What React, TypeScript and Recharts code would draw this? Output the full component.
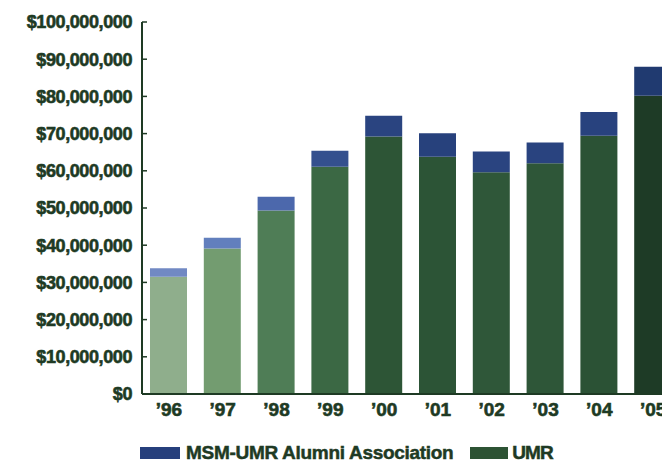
import React, { useLayoutEffect } from 'react';
import { BarChart, Bar, XAxis, YAxis, Cell, Legend } from 'recharts';

const years = ['’96', '’97', '’98', '’99', '’00', '’01', '’02', '’03', '’04', '’05'];
const umrValues = [31500000, 39100000, 49300000, 61100000, 69200000, 63800000, 59600000, 62000000, 69400000, 80200000];
const alumniValues = [2300000, 2900000, 3700000, 4300000, 5600000, 6300000, 5600000, 5600000, 6400000, 7800000];
const yTicks = [0, 10000000, 20000000, 30000000, 40000000, 50000000, 60000000, 70000000, 80000000, 90000000, 100000000];

const greenColors = ['#8fae8c', '#739c70', '#4f7d56', '#3b6844', '#2d5536', '#2c5436', '#2f5739', '#2e5638', '#2b5235', '#1e3b26'];
const blueColors = ['#7189c3', '#627fbd', '#4c68ac', '#34508e', '#2a4480', '#27417c', '#2a4480', '#29437f', '#28427e', '#203a70'];

const data = years.map((y, i) => ({ year: y, umr: umrValues[i], alumni: alumniValues[i] }));

const TEXT = '#1e3a24';
const FONT = '"Liberation Sans", Arial, sans-serif';

const fmt = (v: number) => '$' + v.toLocaleString('en-US');

const YTick = (props: any) => {
  const { x, y, payload } = props;
  return (
    <g>
      <text x={x} y={y} dy="0.355em" textAnchor="end" fill={TEXT} stroke={TEXT} strokeWidth={0.6} fontSize={18} fontWeight="bold" fontFamily={FONT} letterSpacing={-0.4}>
        {fmt(payload.value)}
      </text>
      <line x1={x + 10} x2={x + 15} y1={y} y2={y} stroke={TEXT} strokeWidth={1.5} />
    </g>
  );
};

const XTick = (props: any) => {
  const { x, y, payload } = props;
  return (
    <text x={x} y={y} dy="0.71em" textAnchor="middle" fill={TEXT} stroke={TEXT} strokeWidth={0.6} fontSize={19} fontWeight="bold" fontFamily={FONT}>
      {payload.value}
    </text>
  );
};

const LegendContent = () => (
  <div style={{ display: 'flex', alignItems: 'center', height: 22, lineHeight: '22px', fontFamily: FONT, fontWeight: 'bold', fontSize: 19, color: TEXT, WebkitTextStroke: `0.5px ${TEXT}`, whiteSpace: 'nowrap', letterSpacing: -0.3 }}>
    <span style={{ display: 'inline-block', width: 40, height: 12, background: '#263f7c', marginRight: 6 }} />
    <span style={{ marginRight: 17 }}>MSM-UMR Alumni Association</span>
    <span style={{ display: 'inline-block', width: 38, height: 12, background: '#2d5334', marginRight: 4 }} />
    <span style={{ letterSpacing: -1 }}>UMR</span>
  </div>
);

export default function App() {
  useLayoutEffect(() => {
    document.documentElement.style.overflow = 'hidden';
    document.body.style.overflow = 'hidden';
  }, []);
  return (
    <div style={{ width: 700, height: 464, overflow: 'hidden', position: 'relative', background: '#fff' }}>
      <BarChart width={700} height={464} data={data} margin={{ top: 14, right: 28, left: 0, bottom: 44 }} barSize={37}>
        <XAxis
          dataKey="year"
          height={34}
          tickSize={0}
          tickMargin={9}
          axisLine={{ stroke: TEXT, strokeWidth: 2 }}
          tick={<XTick />}
          interval={0}
        />
        <YAxis
          width={134}
          domain={[0, 100000000]}
          ticks={yTicks}
          tickSize={0}
          tickMargin={10}
          tickLine={false}
          axisLine={{ stroke: TEXT, strokeWidth: 2 }}
          tick={<YTick />}
          interval={0}
        />
        <Legend
          layout="horizontal"
          verticalAlign="middle"
          align="center"
          content={<LegendContent />}
          wrapperStyle={{ position: 'absolute', top: 434, left: 132, width: 'auto', height: 22 }}
        />
        <Bar dataKey="umr" stackId="a" isAnimationActive={false}>
          {data.map((d, i) => (
            <Cell key={d.year} fill={greenColors[i]} />
          ))}
        </Bar>
        <Bar dataKey="alumni" stackId="a" isAnimationActive={false}>
          {data.map((d, i) => (
            <Cell key={d.year} fill={blueColors[i]} />
          ))}
        </Bar>
      </BarChart>
    </div>
  );
}
